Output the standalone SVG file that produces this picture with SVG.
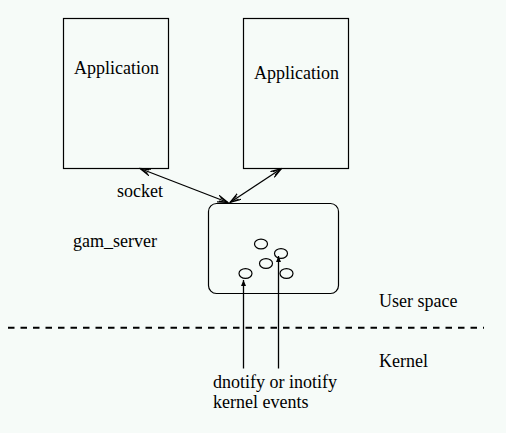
<svg xmlns="http://www.w3.org/2000/svg" width="506" height="433" viewBox="0 0 506 433">
<defs>
<style>
.box{fill:none;stroke:#000;stroke-width:1.2}
.t{font-family:"Liberation Serif","Times New Roman",serif;font-size:18px;fill:#000}
.ln{stroke:#000;stroke-width:1.3;fill:none}
.ev{fill:none;stroke:#000;stroke-width:1.2}
</style>
<marker id="open" viewBox="0 0 12 8" refX="11" refY="4" markerWidth="12" markerHeight="8" markerUnits="userSpaceOnUse" orient="auto-start-reverse">
<path d="M0,0.5 L11,4 L0,7.5 M2,2 L11,4 L2,6" fill="none" stroke="#000" stroke-width="1.2"/>
</marker>
<marker id="fill" viewBox="0 0 6 6" refX="6" refY="3" markerWidth="7" markerHeight="6" markerUnits="userSpaceOnUse" orient="auto">
<path d="M0,0.5 L6,3 L0,5.5 Z" fill="#000"/>
</marker>
</defs>
<rect width="506" height="433" fill="#f6fbf8"/>
<g id="app1">
<rect class="box" x="63.5" y="18.5" width="105" height="150"/>
<text class="t" x="74" y="74">Application</text>
</g>
<g id="app2">
<rect class="box" x="243.5" y="18.5" width="105" height="150"/>
<text class="t" x="254" y="79">Application</text>
</g>
<g id="server">
<rect class="box" x="208.5" y="203.5" width="130" height="90" rx="8" ry="8"/>
<ellipse class="ev" cx="261" cy="244" rx="6.5" ry="4.8"/>
<ellipse class="ev" cx="281" cy="253.5" rx="6.5" ry="4.8"/>
<ellipse class="ev" cx="266" cy="263.5" rx="6.5" ry="4.8"/>
<ellipse class="ev" cx="245.5" cy="273.5" rx="6.5" ry="4.8"/>
<ellipse class="ev" cx="286.5" cy="273.5" rx="6.5" ry="4.8"/>
</g>
<g id="labels">
<text class="t" x="117" y="197">socket</text>
<text class="t" x="73" y="247">gam_server</text>
<text class="t" x="379" y="307">User space</text>
<text class="t" x="379" y="367">Kernel</text>
<text class="t" x="213" y="388">dnotify or inotify</text>
<text class="t" x="213" y="408">kernel events</text>
</g>
<g id="connectors">
<line class="ln" x1="140" y1="168.5" x2="228" y2="202.5" marker-start="url(#open)" marker-end="url(#open)"/>
<line class="ln" x1="230" y1="202.5" x2="281.5" y2="168.5" marker-start="url(#open)" marker-end="url(#open)"/>
<line class="ln" x1="243.5" y1="368.5" x2="243.5" y2="280" marker-end="url(#fill)"/>
<line class="ln" x1="278.5" y1="368.5" x2="278.5" y2="256" marker-end="url(#fill)"/>
<line x1="8" y1="327.8" x2="484" y2="327.8" stroke="#000" stroke-width="2" stroke-dasharray="6.5 6"/>
</g>
</svg>
